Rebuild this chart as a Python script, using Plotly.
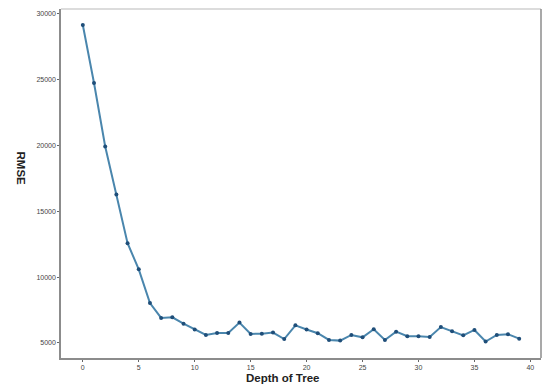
import plotly.graph_objects as go

# depth of tree vs RMSE
depth = list(range(40))
rmse = [29150, 24740, 19920, 16270, 12580, 10590, 8030, 6900, 6950, 6470,
        6020, 5610, 5760, 5760, 6550, 5690, 5710, 5790, 5300, 6340,
        6020, 5740, 5230, 5180, 5610, 5430, 6040, 5230, 5860, 5510,
        5510, 5460, 6210, 5890, 5580, 5990, 5110, 5610, 5660, 5330]
x_ticks = [0, 5, 10, 15, 20, 25, 30, 35, 40]
y_ticks = [5000, 10000, 15000, 20000, 25000, 30000]

fig = go.Figure()
fig.add_trace(go.Scatter(
    x=depth, y=rmse, mode="lines+markers",
    line=dict(color="#4a86ad", width=2),
    marker=dict(color="#1f4e79", size=4),
    showlegend=False,
))

axis_common = dict(
    showgrid=False, zeroline=False, showline=True, linecolor="#8c8c8c", linewidth=1.5,
    ticks="outside", ticklen=2, tickcolor="#666", tickwidth=1, automargin=False,
    tickfont=dict(family="Liberation Sans, Arial", size=7, color="#444"),
)
fig.update_xaxes(range=[-1.95, 40.95], tickvals=x_ticks,
                 ticktext=[str(v) for v in x_ticks], **axis_common)
fig.update_yaxes(range=[3860, 30360], tickvals=y_ticks,
                 ticktext=[str(v) for v in y_ticks], **axis_common)

# top / right frame
fig.add_shape(type="line", xref="paper", yref="paper", x0=0, x1=1, y0=1, y1=1,
              line=dict(color="#d0d0d0", width=1.5))
fig.add_shape(type="line", xref="paper", yref="paper", x0=1, x1=1, y0=0, y1=1,
              line=dict(color="#8c8c8c", width=1.5))

fig.add_annotation(text="<b>Depth of Tree</b>", xref="paper", yref="paper",
                   x=0.462, y=-0.058, yanchor="middle", showarrow=False,
                   font=dict(family="Liberation Sans, Arial", size=11.5, color="#222"))
fig.add_annotation(text="<b>RMSE</b>", xref="paper", yref="paper",
                   x=-0.1, y=0.543, textangle=90, showarrow=False,
                   font=dict(family="Liberation Sans, Arial", size=11.5, color="#222"))

# page body has an 8px margin, so the figure is a bit smaller than the window
fig.update_layout(
    width=542, height=381,
    margin=dict(l=53, r=9, t=1, b=31),
    paper_bgcolor="white", plot_bgcolor="white",
)
fig.write_html("out.html")
